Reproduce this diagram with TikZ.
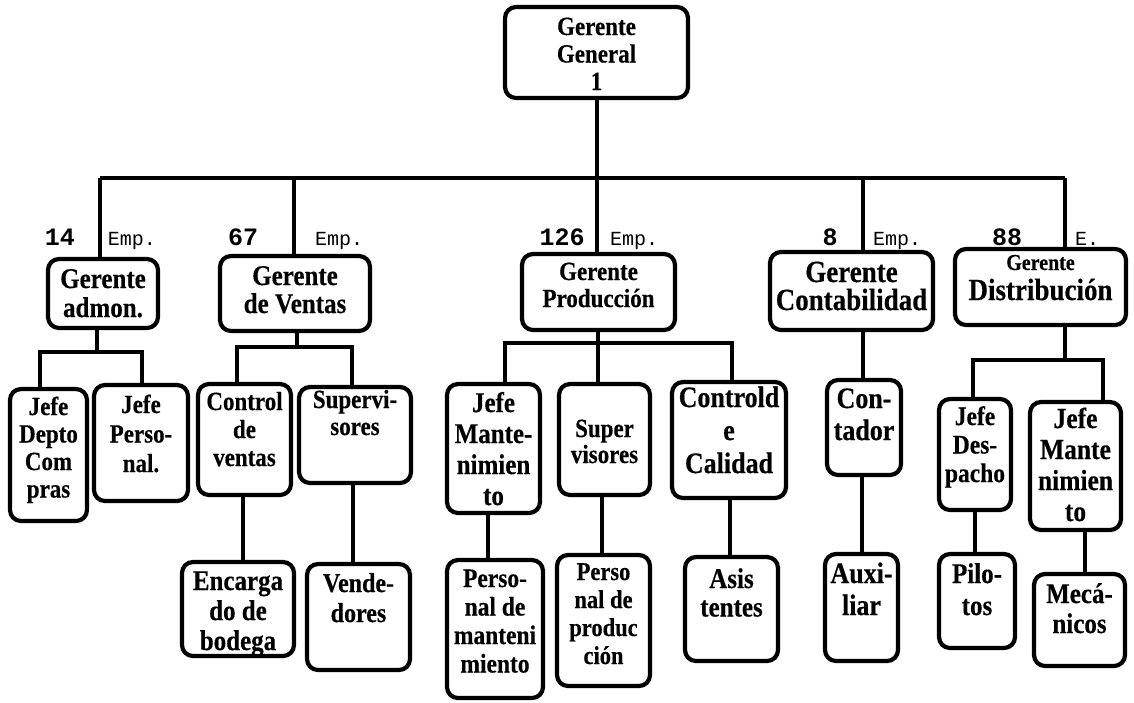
\documentclass[tikz,border=0pt]{standalone}
\usepackage{fontspec}
\setmainfont{Liberation Serif}[Scale=1.14, FakeStretch=0.877, BoldFeatures={FakeBold=0.4}]
\newfontfamily\monofont{Liberation Mono}
\newcommand{\bt}[6]{\parbox[c][#2pt][t]{#1pt}{\centering\fontsize{#3}{#4}\selectfont\bfseries\rule{0pt}{#5pt}#6\par}}
\begin{document}
\begin{tikzpicture}[x=1pt,y=-1pt,
  box/.style={draw, line width=4.2pt, rounded corners=11pt, inner sep=0pt, fill=white},
  conn/.style={line width=4pt},
  num/.style={anchor=base, inner sep=0pt, font=\monofont\bfseries\fontsize{25}{25}\selectfont},
  emp/.style={anchor=base, inner sep=0pt, font=\monofont\fontsize{20}{20}\selectfont}]
\useasboundingbox (0,0) rectangle (1134,702);

% managers
\node[box] (gg) at (596.5,52.5) {\bt{183}{91}{23}{27.5}{28}{Gerente\\General\\1}};
\node[box] (adm) at (103,293.5) {\bt{110}{69}{25}{29}{29}{Gerente\\admon.}};
\node[box] (ven) at (295,293.5) {\bt{150}{75}{25}{28}{29}{Gerente\\de Ventas}};
\node[box] (pro) at (598.5,292) {\bt{153}{76}{23}{27}{26}{Gerente\\Producción}};
\node[box] (con) at (851.5,291) {\bt{163}{78}{27}{28}{30}{Gerente\\Contabilidad}};
\node[box] (dis) at (1040.5,287) {\bt{171}{76}{27}{30}{21}{{\fontsize{20}{30}\selectfont Gerente}\\Distribución}};

% second level
\node[box] (compras) at (48.5,455) {\bt{77}{132}{23}{27.5}{26}{Jefe\\Depto\\Com\\pras}};
\node[box] (personal) at (141,443) {\bt{94}{116}{23}{29.5}{28}{Jefe\\Perso-\\nal.}};
\node[box] (ctrlv) at (244.5,439.5) {\bt{93}{111}{23}{28}{26}{Control\\de\\ventas}};
\node[box] (supv) at (355,435) {\bt{112}{96}{23}{27}{21}{Supervi-\\sores}};
\node[box] (jefemant) at (493.5,448.5) {\bt{93}{129}{25}{31}{28}{Jefe\\Mante-\\nimien\\to}};
\node[box] (supp) at (604.5,439.5) {\bt{91}{111}{23}{26}{53}{Super\\visores}};
\node[box] (ctrlc) at (729,440) {\bt{114}{116}{26}{33}{25}{Controld\\e\\Calidad}};
\node[box] (contador) at (864,427.5) {\bt{74}{95}{26}{32}{28}{Con-\\tador}};
\node[box] (despacho) at (975,454.5) {\bt{72}{111}{23.5}{28.5}{26}{Jefe\\Des-\\pacho}};
\node[box] (jmant) at (1075.5,466) {\bt{91}{128}{25.5}{31}{26}{Jefe\\Mante\\nimien\\to}};

% third level
\node[box] (encargado) at (238,609) {\bt{112}{94}{25}{30}{28}{Encarga\\do de\\bodega}};
\node[box] (vendedores) at (358.5,617) {\bt{103}{106}{24}{30}{28}{Vende-\\dores}};
\node[box] (persmant) at (495,629) {\bt{96}{138}{23.5}{28.5}{27}{Perso-\\nal de\\manteni\\miento}};
\node[box] (persprod) at (603.5,620.5) {\bt{93}{131}{22.5}{28}{25}{Perso\\nal de\\produc\\ción}};
\node[box] (asis) at (731.5,609) {\bt{93}{104}{25}{28.5}{31}{Asis\\tentes}};
\node[box] (auxiliar) at (861.5,607.5) {\bt{73}{107}{26}{32}{29}{Auxi-\\liar}};
\node[box] (pilotos) at (977,601) {\bt{76}{94}{25}{32}{29}{Pilo-\\tos}};
\node[box] (mecanicos) at (1079.5,620) {\bt{91}{92}{25}{30}{29}{Mecá-\\nicos}};

% bus and junction coordinates
\coordinate (bL) at (100,178);
\coordinate (bV) at (294,178);
\coordinate (bG) at (597,178);
\coordinate (bC) at (863,178);
\coordinate (bR) at (1065,178);
\coordinate (ja) at (97,352);  \coordinate (ja1) at (40,352);  \coordinate (ja2) at (142,352);
\coordinate (jv) at (297,347); \coordinate (jv1) at (237,347); \coordinate (jv2) at (352,347);
\coordinate (jp) at (598,343); \coordinate (jp1) at (505,343); \coordinate (jp2) at (732,343);
\coordinate (jd) at (1065,360); \coordinate (jd1) at (973,360); \coordinate (jd2) at (1103,360);
\coordinate (k1) at (243,530);
\coordinate (k2) at (353,530);
\coordinate (k3) at (488,530);
\coordinate (k4) at (602,530);
\coordinate (k5) at (730,530);
\coordinate (k6) at (862,530);
\coordinate (k7) at (975,530);
\coordinate (k8) at (1085,530);

% top connectors
\draw[conn] (gg.south -| bG) -- (bG);
\draw[conn] (bL) -- (bR);
\draw[conn] (bL) -- (bL |- adm.north);
\draw[conn] (bV) -- (bV |- ven.north);
\draw[conn] (bG) -- (bG |- pro.north);
\draw[conn] (bC) -- (bC |- con.north);
\draw[conn] (bR) -- (bR |- dis.north);

% labels
\node[num] (n14) at (60,245) {14};
\node[emp] (e14) at (132,245) {Emp.};
\node[num] (n67) at (243,245) {67};
\node[emp] (e67) at (339,245) {Emp.};
\node[num] (n126) at (562,245) {126};
\node[emp] (e126) at (634,245) {Emp.};
\node[num] (n8) at (830,245) {8};
\node[emp] (e8) at (897,245) {Emp.};
\node[num] (n88) at (1007,245) {88};
\node[emp] (e88) at (1087,245) {E.};

% second level connectors
\draw[conn] (adm.south -| ja) -- (ja);
\draw[conn] (compras.north -| ja1) |- (ja2) -- (personal.north -| ja2);
\draw[conn] (ven.south -| jv) -- (jv);
\draw[conn] (ctrlv.north -| jv1) |- (jv2) -- (supv.north -| jv2);
\draw[conn] (pro.south -| jp) -- (supp.north -| jp);
\draw[conn] (jefemant.north -| jp1) |- (jp2) -- (ctrlc.north -| jp2);
\draw[conn] (con.south -| bC) -- (contador.north -| bC);
\draw[conn] (dis.south -| jd) -- (jd);
\draw[conn] (despacho.north -| jd1) |- (jd2) -- (jmant.north -| jd2);

% third level connectors
\draw[conn] (ctrlv.south -| k1) -- (encargado.north -| k1);
\draw[conn] (supv.south -| k2) -- (vendedores.north -| k2);
\draw[conn] (jefemant.south -| k3) -- (persmant.north -| k3);
\draw[conn] (supp.south -| k4) -- (persprod.north -| k4);
\draw[conn] (ctrlc.south -| k5) -- (asis.north -| k5);
\draw[conn] (contador.south -| k6) -- (auxiliar.north -| k6);
\draw[conn] (despacho.south -| k7) -- (pilotos.north -| k7);
\draw[conn] (jmant.south -| k8) -- (mecanicos.north -| k8);
\end{tikzpicture}
\end{document}
